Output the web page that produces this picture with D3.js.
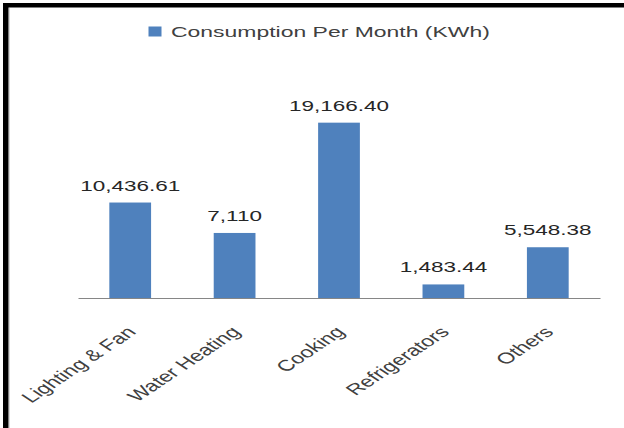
<!DOCTYPE html>
<html>
<head>
<meta charset="utf-8">
<script src="https://cdn.jsdelivr.net/npm/d3@7"></script>
<style>
  html, body { margin: 0; padding: 0; background: #fff; }
  svg { display: block; }
  text { font-family: "Liberation Sans", Arial, sans-serif; }
</style>
</head>
<body>
<svg id="chart" width="624" height="428"></svg>
<script>
const categories = ["Lighting & Fan", "Water Heating", "Cooking", "Refrigerators", "Others"];
const values = [10436.61, 7110, 19166.40, 1483.44, 5548.38];
const valueLabels = ["10,436.61", "7,110", "19,166.40", "1,483.44", "5,548.38"];
const seriesName = "Consumption Per Month (KWh)";

const W = 624, H = 428;
const SX = 1.5; // horizontal text stretch seen in the reference
const svg = d3.select("#chart");

svg.append("rect").attr("width", W).attr("height", H).attr("fill", "#fff");

// frame
svg.append("rect").attr("x", 3).attr("y", 3).attr("width", W - 3).attr("height", 4.5).attr("fill", "#000");
svg.append("rect").attr("x", 3).attr("y", 3).attr("width", 5.5).attr("height", H - 3).attr("fill", "#000");
svg.append("line").attr("x1", 9.5).attr("x2", 9.5).attr("y1", 8).attr("y2", H).attr("stroke", "#d9d9d9").attr("stroke-width", 1);

const x = d3.scaleBand().domain(categories).range([78, 600]).paddingInner(0.6).paddingOuter(0.3);
const y = d3.scaleLinear().domain([0, 25000]).range([298, 69.3]);

// bars
svg.append("g").selectAll("rect").data(categories).join("rect")
  .attr("x", d => x(d))
  .attr("y", (d, i) => y(values[i]))
  .attr("width", x.bandwidth())
  .attr("height", (d, i) => y(0) - y(values[i]))
  .attr("fill", "#4f81bd");

// baseline axis
const xAxis = svg.append("g").attr("transform", `translate(0,${y(0)})`)
  .call(d3.axisBottom(x).tickSize(0).tickFormat(""));
xAxis.select(".domain").attr("stroke", "#868686").attr("stroke-width", 1.2);

// category labels
svg.append("g").selectAll("text").data(categories).join("text")
  .attr("transform", d => `translate(${x(d) + x.bandwidth() / 2 + 7},${y(0) + 35}) scale(${SX},1) rotate(-45)`)
  .attr("text-anchor", "end")
  .attr("font-size", 15.5)
  .attr("fill", "#404040")
  .text(d => d);

// value labels
svg.append("g").selectAll("text").data(categories).join("text")
  .attr("transform", (d, i) => `translate(${x(d) + x.bandwidth() / 2},${y(values[i]) - 12}) scale(${SX},1)`)
  .attr("text-anchor", "middle")
  .attr("font-size", 15)
  .attr("fill", "#262626")
  .text((d, i) => valueLabels[i]);

// legend
const lg = svg.append("g");
lg.append("rect").attr("x", 148.5).attr("y", 26.5).attr("width", 13).attr("height", 10).attr("fill", "#4f81bd");
lg.append("text")
  .attr("transform", `translate(171,37) scale(${SX},1)`)
  .attr("font-size", 15.3)
  .attr("fill", "#404040")
  .text(seriesName);
</script>
</body>
</html>
